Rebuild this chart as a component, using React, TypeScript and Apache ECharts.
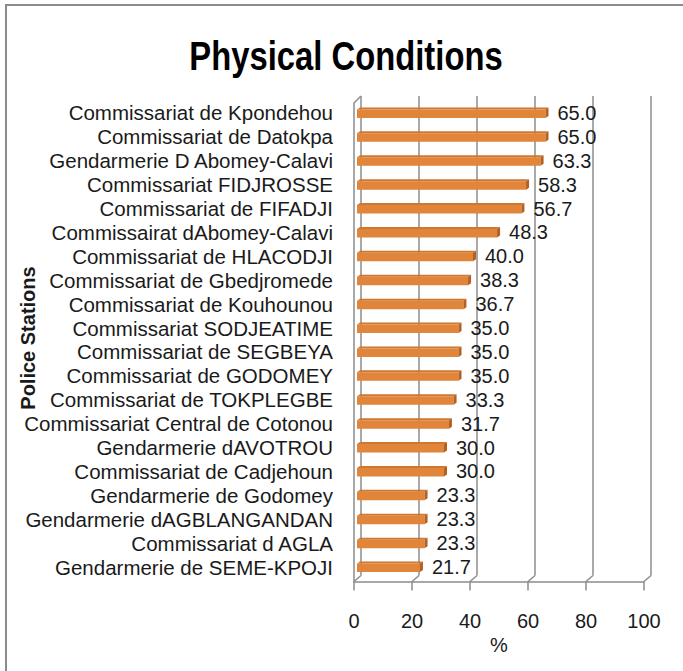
import React, { useEffect, useRef } from "react";
import * as echarts from "echarts";

const categories = [
  "Commissariat de Kpondehou",
  "Commissariat de Datokpa",
  "Gendarmerie D Abomey-Calavi",
  "Commissariat FIDJROSSE",
  "Commissariat de FIFADJI",
  "Commissairat dAbomey-Calavi",
  "Commissariat de HLACODJI",
  "Commissariat de Gbedjromede",
  "Commissariat de Kouhounou",
  "Commissariat SODJEATIME",
  "Commissariat de SEGBEYA",
  "Commissariat de GODOMEY",
  "Commissariat de TOKPLEGBE",
  "Commissariat Central de Cotonou",
  "Gendarmerie dAVOTROU",
  "Commissariat de Cadjehoun",
  "Gendarmerie de Godomey",
  "Gendarmerie dAGBLANGANDAN",
  "Commissariat d AGLA",
  "Gendarmerie de SEME-KPOJI",
];
const values = [65.0, 65.0, 63.3, 58.3, 56.7, 48.3, 40.0, 38.3, 36.7, 35.0, 35.0, 35.0, 33.3, 31.7, 30.0, 30.0, 23.3, 23.3, 23.3, 21.7];
const xTicks = [0, 20, 40, 60, 80, 100];
const titleText = "Physical Conditions";
const yAxisTitle = "Police Stations";
const xAxisTitle = "%";

const FONT = "'Liberation Sans', Arial, sans-serif";
const GRAY = "#8c8c8c";
const TEXT = "#1a1a1a";

// layout
const FRONT = { left: 354, top: 100, width: 290, bottom: 581.5 };
const BACK = { left: 361, top: 96, width: 290, bottom: 575.5 };
const BARS = { left: 357, top: 101, width: 290, bottom: 579 };

export default function App() {
  const ref = useRef<HTMLDivElement>(null);
  useEffect(() => {
    const chart = echarts.init(ref.current!, null, { renderer: "svg" });
    const valueAxisBase = { type: "value", min: 0, max: 100, interval: 20 };
    const option: any = {
      animation: false,
      backgroundColor: "#ffffff",
      grid: [
        { left: FRONT.left, top: FRONT.top, width: FRONT.width, height: FRONT.bottom - FRONT.top },
        { left: BACK.left, top: BACK.top, width: BACK.width, height: BACK.bottom - BACK.top },
        { left: BARS.left, top: BARS.top, width: BARS.width, height: BARS.bottom - BARS.top },
      ],
      xAxis: [
        {
          ...valueAxisBase,
          gridIndex: 0,
          axisLine: { show: true, lineStyle: { color: GRAY, width: 1.5 } },
          axisTick: { show: true, length: 9, lineStyle: { color: GRAY, width: 1.5 } },
          axisLabel: { fontSize: 20, color: TEXT, fontFamily: FONT, margin: 29 },
          splitLine: { show: false },
          name: xAxisTitle,
          nameLocation: "middle",
          nameGap: 53,
          nameTextStyle: { fontSize: 20, color: TEXT, fontFamily: FONT },
        },
        {
          ...valueAxisBase,
          gridIndex: 1,
          axisLine: { show: false },
          axisTick: { show: false },
          axisLabel: { show: false },
          splitLine: { show: true, lineStyle: { color: GRAY, width: 1.5 } },
        },
        {
          ...valueAxisBase,
          gridIndex: 2,
          show: false,
          splitLine: { show: false },
        },
      ],
      yAxis: [
        { type: "category", gridIndex: 0, data: categories, inverse: true, show: false },
        { type: "category", gridIndex: 1, data: categories, inverse: true, show: false },
        {
          type: "category",
          gridIndex: 2,
          data: categories,
          inverse: true,
          axisLine: { show: false },
          axisTick: { show: false },
          axisLabel: { fontSize: 20.5, color: TEXT, fontFamily: FONT, margin: 24, interval: 0 },
        },
      ],
      series: [
        {
          type: "custom",
          xAxisIndex: 2,
          yAxisIndex: 2,
          z: 5,
          data: values.map((v, i) => [v, i]),
          renderItem: (params: any, api: any) => {
            const v = api.value(0);
            const ci = api.value(1);
            const s = api.coord([0, ci]);
            const e = api.coord([v, ci]);
            const c = s[1];
            const dx = 3;
            const dy = 2;
            const y0 = c - 3.5;
            const h = 8.5;
            const x0 = s[0];
            const x1 = e[0];
            return {
              type: "group",
              children: [
                {
                  type: "polygon",
                  shape: { points: [[x0, y0], [x0 + dx, y0 - dy], [x1 + dx, y0 - dy], [x1, y0]] },
                  style: { fill: "#cf772f" },
                },
                {
                  type: "rect",
                  shape: { x: x0, y: y0, width: x1 - x0, height: h },
                  style: { fill: "#e0853a" },
                },
                {
                  type: "polygon",
                  shape: { points: [[x1, y0], [x1 + dx, y0 - dy], [x1 + dx, y0 + h - dy], [x1, y0 + h]] },
                  style: { fill: "#b46020" },
                },
                {
                  type: "text",
                  style: {
                    text: v.toFixed(1),
                    x: x1 + dx + 9,
                    y: c,
                    verticalAlign: "middle",
                    textAlign: "left",
                    fontSize: 20,
                    fontFamily: FONT,
                    fill: TEXT,
                  },
                },
              ],
            };
          },
        },
      ],
    };
    chart.setOption(option);

    const elements: any[] = [];
    elements.push({
      type: "rect",
      z: 0,
      shape: { x: 6, y: 5, width: 740, height: 740 },
      style: { fill: "none", stroke: GRAY, lineWidth: 2 },
    });
    elements.push({
      type: "text",
      z: 10,
      x: 346,
      y: 56,
      scaleX: 0.82,
      style: {
        text: titleText,
        x: 0,
        y: 0,
        textAlign: "center",
        verticalAlign: "middle",
        fontSize: 40,
        fontWeight: "bold",
        fontFamily: FONT,
        fill: "#000",
      },
    });
    elements.push({
      type: "text",
      z: 10,
      x: 28,
      y: 338,
      rotation: Math.PI / 2,
      style: {
        text: yAxisTitle,
        x: 0,
        y: 0,
        textAlign: "center",
        verticalAlign: "middle",
        fontSize: 20,
        fontWeight: "bold",
        fontFamily: FONT,
        fill: TEXT,
      },
    });
    xTicks.forEach((t) => {
      const fx = chart.convertToPixel({ xAxisIndex: 0 } as any, t) as number;
      const bx = chart.convertToPixel({ xAxisIndex: 1 } as any, t) as number;
      elements.push({
        type: "line",
        z: 1,
        shape: { x1: bx, y1: BACK.bottom, x2: fx, y2: FRONT.bottom },
        style: { stroke: GRAY, lineWidth: 1.5 },
      });
    });
    const f0 = chart.convertToPixel({ xAxisIndex: 0 } as any, 0) as number;
    const b0 = chart.convertToPixel({ xAxisIndex: 1 } as any, 0) as number;
    elements.push({
      type: "polyline",
      z: 1,
      shape: { points: [[f0, FRONT.bottom], [f0, BACK.top + 7], [b0, BACK.top]] },
      style: { stroke: GRAY, lineWidth: 1.5, fill: "none" },
    });
    chart.setOption({ graphic: elements });

    return () => chart.dispose();
  }, []);
  return (
    <div
      ref={ref}
      style={{ position: "fixed", left: 0, top: 0, width: 683, height: 671 }}
    />
  );
}
